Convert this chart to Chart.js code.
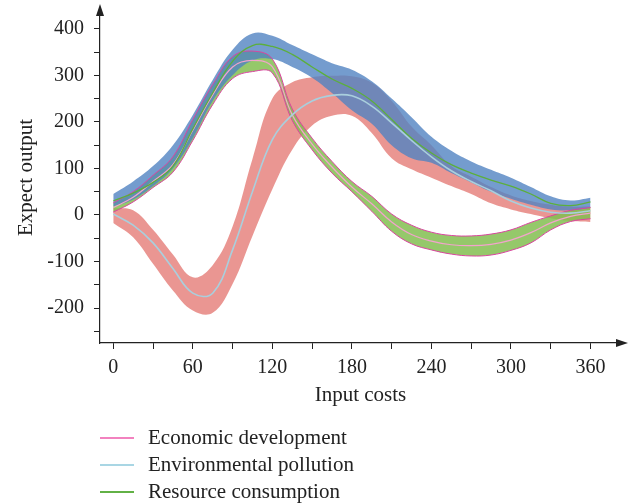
<!DOCTYPE html>
<html>
<head>
<meta charset="utf-8">
<script src="https://cdn.jsdelivr.net/npm/chart.js@4.4.1/dist/chart.umd.min.js"></script>
<style>
  body { margin: 0; background: #fff; }
  #wrap { position: relative; width: 632px; height: 504px; }
  #legend { position: absolute; left: 100px; top: 424px; font: 21px "Liberation Serif", serif; color: #222; }
  .row { height: 27px; display: flex; align-items: center; }
  .row span.ln { display: inline-block; width: 34px; height: 2px; margin-right: 14px; }
</style>
</head>
<body>
<div id="wrap">
  <canvas id="c" width="632" height="504"></canvas>
  <div id="legend"></div>
</div>
<script>
'use strict'
// input costs (x)
var xs = [0, 15, 30, 45, 60, 75, 90, 105, 120, 135, 150, 165, 180, 195, 210, 225, 240, 255, 270, 285, 300, 315, 330, 345, 360];

// Economic development: green band, pink mid line
var ecoUpper = [26, 50, 85, 125, 205, 280, 340, 352, 335, 228, 165, 115, 72, 40, 2, -22, -37, -44, -45, -41, -32, -16, -2, 10, 16];
var ecoMid   = [16, 38, 72, 108, 182, 258, 318, 332, 318, 215, 152, 103, 60, 24, -15, -42, -56, -64, -66, -63, -54, -38, -17, -3, 4];
var ecoLower = [6, 28, 59, 92, 160, 237, 293, 308, 305, 203, 140, 90, 50, 8, -35, -62, -75, -84, -88, -86, -76, -60, -32, -14, -8];

// Environmental pollution: red band, light blue mid line
var polUpper = [15, 10, -32, -85, -134, -108, -25, 120, 250, 285, 296, 299, 298, 284, 245, 190, 150, 105, 82, 60, 42, 30, 22, 18, 18];
var polMid   = [2, -22, -60, -115, -168, -168, -75, 50, 162, 215, 245, 257, 256, 234, 198, 160, 125, 95, 72, 52, 30, 15, 6, 4, 9];
var polLower = [-17, -48, -105, -162, -205, -210, -148, -45, 55, 140, 192, 213, 213, 176, 122, 98, 80, 62, 45, 25, 12, 2, -7, -13, -15];

// Resource consumption: blue band, green mid line
var resUpper = [45, 72, 105, 150, 215, 290, 355, 390, 385, 365, 345, 326, 312, 287, 250, 210, 168, 138, 115, 97, 80, 60, 40, 31, 37];
var resMid   = [30, 47, 70, 105, 185, 262, 330, 364, 362, 345, 318, 292, 272, 245, 205, 165, 133, 108, 90, 75, 62, 45, 25, 20, 28];
var resLower = [18, 33, 62, 100, 165, 245, 300, 332, 335, 318, 295, 262, 225, 196, 150, 122, 112, 90, 70, 50, 35, 22, 12, 10, 15];

var legendNames = ['Economic development', 'Environmental pollution', 'Resource consumption'];
var legendColors = ['#f282bf', '#a9d6e4', '#62b146'];

var xTickVals = [0, 30, 60, 90, 120, 150, 180, 210, 240, 270, 300, 330, 360];
var yTickVals = [-250, -200, -150, -100, -50, 0, 50, 100, 150, 200, 250, 300, 350, 400];

var FONT = '"Liberation Serif", "DejaVu Serif", serif';

function pts(arr){
  return arr.map(function(y, i){ return {x: xs[i], y: y} })
}

var red = 'rgba(229,124,119,0.8)';
var blue = 'rgba(81,131,194,0.8)';
var green = 'rgba(130,190,80,0.85)';
var magenta = '#d9449f';

var data1 = {
  datasets: [
    { data: pts(resUpper), fill: '+1', backgroundColor: blue, borderWidth: 0, order: 1 },
    { data: pts(resLower), fill: false, borderWidth: 0, order: 1 },
    { data: pts(ecoUpper), fill: '+1', backgroundColor: green, borderColor: magenta, borderWidth: 1, order: 2 },
    { data: pts(ecoLower), fill: false, borderColor: magenta, borderWidth: 1, order: 2 },
    { data: pts(polUpper), fill: '+1', backgroundColor: red, borderWidth: 0, order: 3 },
    { data: pts(polLower), fill: false, borderWidth: 0, order: 3 },
    { data: pts(polMid), fill: false, borderColor: '#a9cfdd', borderWidth: 1.6, order: 0 },
    { data: pts(resMid), fill: false, borderColor: '#5caf3c', borderWidth: 1.3, order: 0 },
    { data: pts(ecoMid), fill: false, borderColor: '#f3a3cc', borderWidth: 1.2, order: 0 }
  ]
}

// arrow heads on both axes
var arrows = {
  id: 'arrows',
  afterDraw: function(chart){
    var ctx = chart.ctx, a = chart.chartArea;
    ctx.save();
    ctx.fillStyle = '#222';
    ctx.beginPath();
    ctx.moveTo(a.left, a.top - 8);
    ctx.lineTo(a.left - 4, a.top + 4);
    ctx.lineTo(a.left + 4, a.top + 4);
    ctx.closePath();
    ctx.fill();
    ctx.beginPath();
    ctx.moveTo(a.right + 7, a.bottom);
    ctx.lineTo(a.right - 5, a.bottom - 4);
    ctx.lineTo(a.right - 5, a.bottom + 4);
    ctx.closePath();
    ctx.fill();
    ctx.restore();
  }
}

var chart3 = new Chart(document.getElementById('c'), {
  type: 'line',
  data: data1,
  plugins: [arrows],
  options: {
    responsive: false,
    animation: false,
    layout: { padding: { left: 10, right: 11, top: 12, bottom: 92 } },
    elements: { point: { radius: 0 }, line: { tension: 0.4 } },
    plugins: {
      legend: { display: false },
      tooltip: { enabled: false },
      filler: { drawTime: 'beforeDatasetsDraw' }
    },
    scales: {
      x: {
        type: 'linear', min: -10, max: 383,
        border: { color: '#222', width: 1.2 },
        grid: { drawOnChartArea: false, tickLength: 6, color: '#222' },
        ticks: {
          font: { family: FONT, size: 20 }, color: '#222', padding: 7, maxRotation: 0, autoSkip: false,
          callback: function(v){ return v % 60 === 0 ? String(v) : '' }
        },
        afterBuildTicks: function(s){ s.ticks = xTickVals.map(function(v){ return {value: v} }) },
        afterFit: function(s){ s.height = 69 },
        title: { display: true, text: 'Input costs', font: { family: FONT, size: 21 }, color: '#222', padding: { top: 0, bottom: 4 } }
      },
      y: {
        type: 'linear', min: -275, max: 436,
        border: { color: '#222', width: 1.2 },
        grid: { drawOnChartArea: false, tickLength: 6, color: '#222' },
        ticks: {
          font: { family: FONT, size: 20 }, color: '#222', padding: 10, autoSkip: false,
          callback: function(v){ return v % 100 === 0 ? String(v) : '' }
        },
        afterBuildTicks: function(s){ s.ticks = yTickVals.map(function(v){ return {value: v} }) },
        afterFit: function(s){ s.width = 90; s.paddingTop = 0; s.paddingBottom = 0 },
        title: { display: true, text: 'Expect output', font: { family: FONT, size: 21 }, color: '#222', padding: 4 }
      }
    }
  }
});

var lg = document.getElementById('legend');
legendNames.forEach(function(name, i){
  var row = document.createElement('div');
  row.className = 'row';
  var ln = document.createElement('span');
  ln.className = 'ln';
  ln.style.background = legendColors[i];
  row.appendChild(ln);
  row.appendChild(document.createTextNode(name));
  lg.appendChild(row);
});
</script>
</body>
</html>
